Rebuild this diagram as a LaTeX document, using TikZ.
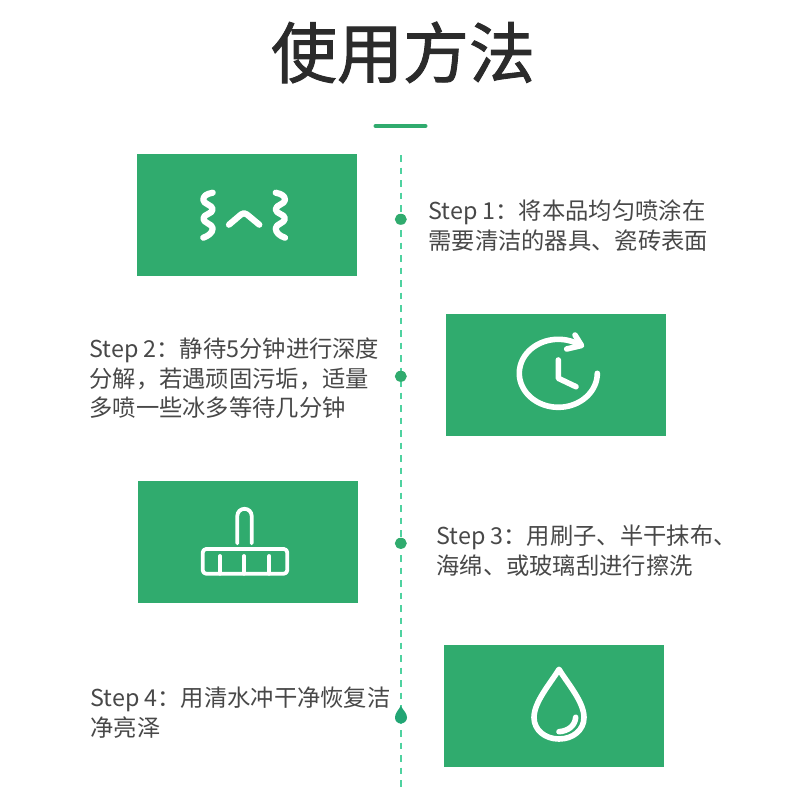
\documentclass[tikz,border=0pt]{standalone}
\usepackage{fontspec}
\setmainfont{Noto Sans CJK SC}
\newfontfamily\titlefont[FakeBold=1.4]{Noto Sans CJK SC}
\usetikzlibrary{calc,shapes.geometric}
\definecolor{boxgreen}{HTML}{30AB6E}
\definecolor{dashgreen}{HTML}{4FD2A0}
\definecolor{dropgreen}{HTML}{22A574}
\definecolor{inktext}{HTML}{484848}
\definecolor{titleink}{HTML}{2B2B2B}
\newcommand{\fwcolon}{\symbol{"FF1A}}
\newcommand{\fwcomma}{\symbol{"FF0C}}
\tikzset{
  x=1pt,y=-1pt,
  panel/.style={fill=boxgreen,draw=none,minimum width=220pt,minimum height=122pt,inner sep=0pt,outer sep=0pt},
  steptext/.style={anchor=west,inner sep=0pt,outer sep=0pt,text=inktext,font=\fontsize{23.3pt}{29pt}\selectfont},
  icon/.style={draw=white,line width=5.6pt,line cap=round,line join=round},
  thickicon/.style={draw=white,line width=6.2pt,line cap=round,line join=round},
  thinicon/.style={draw=white,line width=3.8pt,line cap=round,line join=round},
  marker/.style={fill=boxgreen,draw=none,ellipse,minimum width=12pt,minimum height=11pt,inner sep=0pt},
}
\begin{document}
\begin{tikzpicture}
\useasboundingbox (0,0) rectangle (800,800);
\fill[white] (0,0) rectangle (800,800);
% title
\node[inner sep=0pt,text=titleink,font=\titlefont\fontsize{66pt}{72pt}\selectfont] (title) at (403,52.5) {使用方法};
\coordinate (ruleL) at (375.5,126);
\coordinate (ruleR) at (425.5,126);
\draw[boxgreen,line width=4pt,line cap=round] (ruleL) -- (ruleR);
% timeline
\coordinate (lineTop) at (401,155);
\coordinate (lineBot) at (401,790);
\draw[dashgreen,line width=2pt,dash pattern=on 6.5pt off 6pt] (lineTop) -- (lineBot);
% markers
\node[marker] (m1) at (400.8,219.3) {};
\node[marker] (m2) at (400.8,376.3) {};
\node[marker] (m3) at (400.8,543.3) {};
\fill[dropgreen] (400.8,706) .. controls (403,710) and (407,713) .. (407,717.5) .. controls (407,721) and (404,723.5) .. (400.8,723.5) .. controls (397.5,723.5) and (395,721) .. (395,717.5) .. controls (395,713) and (398.5,710) .. (400.8,706) -- cycle;
% panels
\node[panel] (p1) at (246.5,215) {};
\node[panel] (p2) at (556,375) {};
\node[panel] (p3) at (248,542) {};
\node[panel] (p4) at (554,706) {};
% icon 1: waves and chevron
\draw[thickicon] (212.7,192.7) .. controls (206,194) and (203.3,196) .. (203.3,200) .. controls (203.3,204) and (212.7,205) .. (212.7,209.3) .. controls (212.7,214) and (203.3,214) .. (203.3,218.6) .. controls (203.3,223) and (212.7,224) .. (212.7,228.3) .. controls (212.7,233) and (208,236) .. (203.3,237.7);
\draw[thickicon] (275.7,192.7) .. controls (282,194) and (285,196) .. (285,200) .. controls (285,204) and (275.7,205) .. (275.7,209.3) .. controls (275.7,214) and (285,214) .. (285,218.6) .. controls (285,223) and (275.7,224) .. (275.7,228.3) .. controls (275.7,233) and (280,236) .. (285,237.7);
\draw[thickicon] (229,224.7) -- (241,214.5) .. controls (243,212.8) and (245,212.8) .. (247,214.5) -- (259.3,224.7);
% icon 2: clock
\draw[icon] plot[domain=0:304,samples=70,smooth] ({558.3+39*cos(\x)},{373.3+34*sin(\x)});
\draw[icon] (575,335) -- (581.5,345.5) -- (566.7,349);
\draw[icon] (558.3,360) -- (558.3,378.3) -- (576,386.7);
% icon 3: brush
\draw[thinicon] (237.3,543.3) -- (237.3,516) arc[start angle=180,end angle=0,radius=7.2pt] -- (251.7,543.3);
\draw[thinicon,rounded corners=3.5pt] (202.7,549) rectangle (287.3,573.7);
\draw[thinicon] (220,556) -- (220,573.7);
\draw[thinicon] (244,556) -- (244,573.7);
\draw[thinicon] (269.3,556) -- (269.3,573.7);
% icon 4: drop
\draw[icon] (559,669.3) .. controls (568,684) and (584,702) .. (584,717.5) .. controls (584,730) and (573,739) .. (559,739) .. controls (545,739) and (534,730) .. (534,717.5) .. controls (534,702) and (550,684) .. (559,669.3) -- cycle;
\draw[icon] (559,731.7) .. controls (568,731) and (575,726) .. (575.7,717.3);
% texts
\node[steptext] (t1a) at (428.4,212.2) {Step 1\fwcolon 将本品均匀喷涂在};
\node[steptext] (t1b) at (428.4,240.8) {需要清洁的器具、瓷砖表面};
\node[steptext] (t2a) at (89.4,350.5) {Step 2\fwcolon 静待5分钟进行深度};
\node[steptext] (t2b) at (89.4,379) {分解\fwcomma 若遇顽固污垢\fwcomma 适量};
\node[steptext] (t2c) at (89.4,407.8) {多喷一些冰多等待几分钟};
\node[steptext] (t3a) at (436.4,537.2) {Step 3\fwcolon 用刷子、半干抹布、};
\node[steptext] (t3b) at (436.4,565.8) {海绵、或玻璃刮进行擦洗};
\node[steptext] (t4a) at (90.4,699.2) {Step 4\fwcolon 用清水冲干净恢复洁};
\node[steptext] (t4b) at (90.4,727.8) {净亮泽};
\end{tikzpicture}
\end{document}
